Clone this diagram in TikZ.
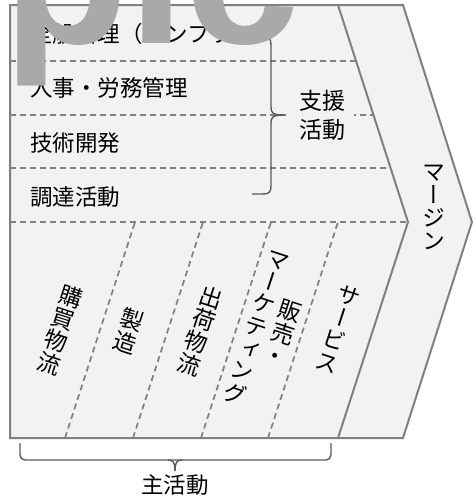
\documentclass[tikz,border=0pt]{standalone}
\usepackage{fontspec}
\usetikzlibrary{calc}
\newfontfamily\jp{Noto Sans CJK JP}
\newfontfamily\jpv[RawFeature=+vert]{Noto Sans CJK JP}
\newfontfamily\wmfont{Liberation Sans}
\definecolor{fillg}{HTML}{F2F2F2}
\definecolor{lineg}{HTML}{808080}
\definecolor{brg}{HTML}{595959}
\definecolor{wmg}{HTML}{A9A9A9}
\begin{document}
\begin{tikzpicture}[x=1pt,y=-1pt,
  frame/.style={draw=lineg, line width=2pt, line join=miter},
  dashline/.style={draw=lineg, line width=1.7pt, dash pattern=on 6pt off 4pt},
  bracel/.style={draw=brg, line width=1.4pt},
  rowtext/.style={anchor=west, inner sep=0pt, font=\jp\fontsize{22.5}{24}\selectfont},
  coltext/.style={inner sep=0pt, align=center, rotate=-18, font=\jpv\fontsize{23}{23.5}\selectfont},
]
\clip (0,0) rectangle (476,496);
\coordinate (tl) at (10,5);
\coordinate (tr) at (403,5);
\coordinate (tip) at (472,222);
\coordinate (br) at (403,438);
\coordinate (bl) at (10,438);
\coordinate (it) at (338,5);
\coordinate (ip) at (408,222);
\coordinate (ib) at (338,438);

\fill[fillg] (tl) -- (tr) -- (tip) -- (br) -- (bl) -- cycle;

% support activity separators
\foreach \y/\t in {61/0.258, 115/0.507, 168/0.751}
  \draw[dashline] (10,\y) -- ($(it)!\t!(ip)$);
\draw[dashline] (10,222) -- (ip);

% primary activity separators
\foreach \xb/\xt in {65/135, 133/203, 201/271, 268/338}
  \draw[dashline] (\xb,438) -- (\xt,222);

% support brace
\draw[bracel] (252,36) -- (263,36) .. controls (269,36) and (271,39) .. (271,45) -- (271,107)
  .. controls (271,113) and (273,115) .. (284,115);
\draw[bracel] (284,115) .. controls (273,115) and (271,117) .. (271,123) -- (271,186)
  .. controls (271,192) and (269,194) .. (263,194) -- (252,194);

% primary brace
\draw[bracel, rounded corners=5pt] (20,443) |- (175,460) -| (331,443);
\draw[bracel] (168,460) .. controls (173,460) and (175,462) .. (175,471);
\draw[bracel] (182,460) .. controls (177,460) and (175,462) .. (175,471);

% texts
\node[rowtext] (r1) at (30,34) {全般管理（インフラ）};
\node[rowtext] (r2) at (30,88) {人事・労務管理};
\node[rowtext] (r3) at (30,143) {技術開発};
\node[rowtext] (r4) at (30,197) {調達活動};
\node[font=\jp\fontsize{23}{29}\selectfont, align=center, fill=fillg, inner xsep=9pt, inner ysep=2pt] (sup) at (322,115) {支援\\活動};

\node[coltext] (c1) at (60,330) {購\\買\\物\\流};
\node[coltext] (c2) at (129,331) {製\\造};
\node[coltext] (c3) at (200,331) {出\\荷\\物\\流};
\node[coltext] (c4a) at (283,333) {販\\売\\・};
\node[coltext] (c4b) at (256,328) {マ\\ー\\ケ\\テ\\ィ\\ン\\グ};
\node[coltext] (c5) at (338,329) {サ\\ー\\ビ\\ス};
\node[inner sep=0pt, align=center, font=\jpv\fontsize{23}{23}\selectfont] (mg) at (434,207) {マ\\ー\\ジ\\ン};
\node[font=\jp\fontsize{22.5}{24}\selectfont, inner sep=0pt] (main) at (175,485) {主活動};

% outlines
\draw[frame] (tl) -- (tr) -- (tip) -- (br) -- (bl) -- cycle;
\draw[frame] (it) -- (ip) -- (ib);

% watermark
\node[anchor=base west, inner sep=0pt, text=wmg, font=\wmfont\bfseries\fontsize{205}{205}\selectfont] (wm) at (3,43) {pic};
\end{tikzpicture}
\end{document}
